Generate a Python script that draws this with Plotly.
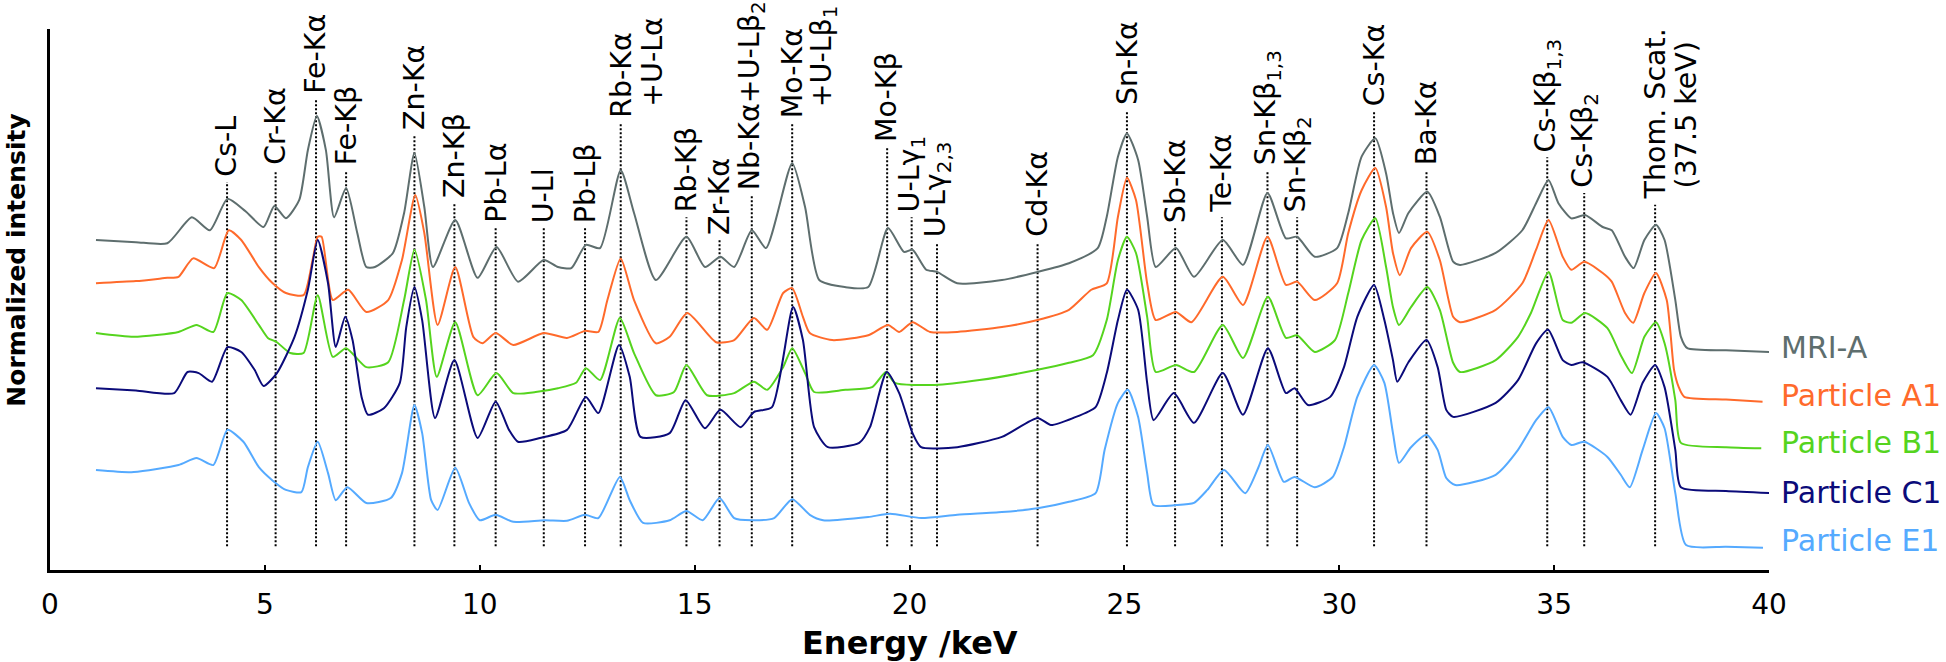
import plotly.graph_objects as go

# spectra: (energy keV, offset normalized intensity)
mri_a = [(1.07, 61.0), (2.0, 60.6), (2.73, 60.4), (3.30, 65.2), (3.72, 62.8), (4.13, 68.6), (4.55, 66.3),
         (4.97, 63.4), (5.22, 67.3), (5.49, 65.0), (5.8, 68.4), (6.0, 77.6), (6.21, 83.9), (6.42, 77.6),
         (6.61, 65.2), (6.89, 70.6), (7.15, 62.3), (7.36, 56.0), (7.56, 56.0), (7.98, 58.6), (8.24, 66.0),
         (8.48, 77.1), (8.71, 67.1), (8.91, 56.0), (9.43, 64.7), (9.95, 54.0), (10.39, 59.7), (10.89, 53.3),
         (11.49, 57.3), (11.82, 56.0), (12.13, 55.8), (12.47, 60.1), (12.8, 59.5), (13.28, 73.9), (13.59, 66.0),
         (14.1, 53.6), (14.81, 61.6), (15.24, 56.0), (15.6, 57.9), (15.92, 56.0), (16.33, 62.8), (16.66, 59.5),
         (17.27, 75.2), (17.57, 67.1), (17.9, 53.6), (18.5, 52.3), (19.04, 52.3), (19.5, 63.2), (19.87, 58.8),
         (20.07, 59.2), (20.39, 55.5), (20.64, 55.1), (21.11, 53.0), (22.15, 53.6), (22.98, 55.1), (23.71, 56.7),
         (24.38, 59.5), (24.59, 65.3), (24.85, 76.4), (25.06, 80.7), (25.32, 75.8), (25.53, 65.3), (25.73, 56.0),
         (26.2, 59.5), (26.62, 54.2), (27.29, 61.0), (27.76, 56.4), (28.33, 69.7), (28.76, 61.3), (29.02, 61.6),
         (29.43, 57.9), (29.95, 59.5), (30.21, 66.0), (30.52, 76.4), (30.84, 79.8), (31.09, 73.3), (31.25, 66.0),
         (31.39, 62.3), (31.61, 66.0), (32.05, 69.9), (32.34, 65.3), (32.65, 57.0), (32.81, 56.4), (33.64, 58.6),
         (34.26, 62.8), (34.58, 67.8), (34.87, 72.1), (35.1, 67.8), (35.4, 65.0), (35.72, 65.6), (36.13, 63.4),
         (36.34, 62.8), (36.65, 57.9), (36.85, 55.8), (37.1, 61.0), (37.37, 63.8), (37.57, 61.0), (37.82, 49.9),
         (37.95, 43.1), (38.1, 41.0), (39.0, 40.6), (40.05, 40.3)]

particle_a1 = [(1.07, 53.0), (2.0, 53.4), (2.73, 54.0), (2.99, 54.2), (3.33, 57.6), (3.82, 55.8), (4.16, 62.8),
               (4.45, 61.0), (4.86, 56.0), (5.17, 53.1), (5.49, 51.2), (5.9, 50.8), (6.11, 57.3), (6.23, 61.6),
               (6.32, 61.6), (6.58, 49.9), (6.94, 51.8), (7.36, 47.7), (7.87, 49.9), (8.19, 57.3), (8.5, 69.3),
               (8.71, 62.3), (9.02, 45.3), (9.43, 56.0), (9.85, 43.1), (10.06, 41.9), (10.37, 43.8), (10.78, 41.6),
               (11.49, 43.8), (12.03, 42.9), (12.45, 44.2), (12.76, 44.0), (12.97, 49.9), (13.28, 57.6), (13.59, 49.9),
               (14.1, 41.9), (14.42, 43.1), (14.83, 47.5), (15.5, 42.1), (15.92, 42.5), (16.38, 46.6), (16.69, 44.4),
               (17.06, 51.2), (17.27, 52.1), (17.52, 46.8), (17.68, 43.8), (18.2, 42.5), (19.04, 43.4), (19.5, 45.3),
               (19.76, 44.0), (20.07, 45.8), (20.48, 44.0), (21.11, 44.0), (22.15, 44.9), (22.98, 46.2), (23.71, 48.1),
               (24.23, 51.8), (24.59, 53.0), (24.85, 65.3), (25.06, 72.5), (25.27, 68.4), (25.53, 53.0), (25.73, 46.2),
               (26.2, 47.7), (26.56, 45.8), (27.29, 54.2), (27.76, 49.0), (28.33, 61.6), (28.76, 52.7), (29.02, 53.3),
               (29.43, 49.9), (29.95, 53.0), (30.21, 62.3), (30.52, 70.2), (30.84, 74.3), (31.09, 67.1), (31.25, 58.6),
               (31.41, 54.5), (31.67, 59.5), (32.05, 62.5), (32.34, 57.3), (32.65, 46.8), (32.81, 45.8), (33.64, 48.1),
               (34.26, 53.0), (34.58, 59.2), (34.87, 64.7), (35.2, 57.9), (35.4, 55.5), (35.7, 57.0), (36.13, 54.9),
               (36.34, 53.3), (36.65, 47.5), (36.84, 45.7), (37.1, 51.2), (37.37, 54.9), (37.62, 49.9), (37.79, 37.0),
               (37.9, 33.8), (38.03, 32.0), (39.0, 31.5), (39.85, 31.1)]

particle_b1 = [(1.07, 43.8), (1.95, 43.1), (2.99, 44.0), (3.41, 45.3), (3.8, 44.0), (4.13, 51.2), (4.45, 49.9),
               (4.86, 45.3), (5.07, 42.9), (5.28, 42.1), (5.59, 40.1), (5.9, 40.1), (6.23, 50.8), (6.58, 39.4),
               (6.89, 41.0), (7.36, 37.5), (7.87, 38.4), (8.24, 49.9), (8.48, 59.2), (8.75, 49.9), (9.0, 35.7),
               (9.43, 45.8), (9.95, 32.3), (10.39, 36.4), (10.78, 32.7), (11.3, 32.9), (11.82, 33.6), (12.24, 34.6),
               (12.47, 37.3), (12.8, 35.1), (13.26, 46.6), (13.59, 40.1), (14.1, 32.3), (14.52, 32.9), (14.81, 37.9),
               (15.29, 32.3), (15.92, 32.7), (16.38, 34.8), (16.69, 33.3), (17.06, 37.5), (17.27, 41.0), (17.57, 36.4),
               (17.78, 32.9), (18.51, 33.3), (19.13, 33.8), (19.45, 36.6), (19.66, 34.6), (20.59, 34.2), (21.63, 35.1),
               (22.98, 37.0), (23.71, 38.3), (24.27, 39.7), (24.59, 46.2), (24.85, 57.3), (25.06, 61.6), (25.27, 58.6),
               (25.53, 46.8), (25.73, 36.6), (26.2, 37.9), (26.62, 36.6), (27.29, 45.3), (27.76, 39.2), (28.34, 50.5),
               (28.76, 42.9), (29.02, 43.4), (29.43, 40.3), (29.9, 42.5), (30.21, 51.2), (30.52, 61.0), (30.84, 65.0),
               (31.09, 56.0), (31.25, 48.6), (31.39, 45.3), (31.67, 48.6), (32.05, 52.3), (32.34, 48.1), (32.65, 38.3),
               (32.81, 36.6), (33.64, 38.8), (34.16, 43.1), (34.46, 47.5), (34.87, 55.1), (35.2, 46.2), (35.4, 45.7),
               (35.72, 47.5), (36.24, 44.7), (36.55, 39.7), (36.81, 36.4), (37.1, 43.1), (37.37, 45.8), (37.57, 41.9),
               (37.82, 31.4), (37.95, 23.5), (39.0, 22.7), (39.82, 22.5)]

particle_c1 = [(1.07, 33.6), (2.0, 33.2), (2.89, 32.7), (3.2, 36.6), (3.46, 36.4), (3.77, 34.8), (4.13, 41.2),
               (4.45, 40.3), (4.76, 37.0), (4.97, 34.0), (5.28, 36.4), (5.69, 43.1), (6.0, 51.8), (6.23, 61.0),
               (6.47, 53.0), (6.65, 41.2), (6.87, 46.8), (7.04, 42.5), (7.25, 32.0), (7.4, 28.7), (7.77, 29.9),
               (8.14, 34.6), (8.29, 44.9), (8.48, 52.3), (8.66, 46.2), (8.96, 28.1), (9.41, 38.8), (9.95, 24.4),
               (10.37, 31.1), (10.68, 25.9), (10.89, 23.7), (11.4, 24.4), (12.03, 25.9), (12.47, 32.0), (12.76, 29.0),
               (13.24, 41.6), (13.49, 35.7), (13.74, 24.6), (14.42, 25.3), (14.79, 31.4), (15.24, 26.2), (15.6, 29.6),
               (16.07, 26.4), (16.38, 29.2), (16.8, 30.1), (17.29, 48.6), (17.52, 42.5), (17.78, 26.4), (18.1, 22.7),
               (18.83, 23.5), (19.08, 26.4), (19.47, 36.6), (19.76, 32.7), (20.07, 25.3), (20.27, 22.7), (21.11, 22.7),
               (22.15, 24.6), (22.98, 28.1), (23.29, 26.8), (23.81, 28.1), (24.33, 30.1), (24.59, 36.4), (24.85, 46.2),
               (25.06, 51.8), (25.32, 48.1), (25.53, 34.6), (25.68, 27.7), (26.15, 32.7), (26.62, 27.2), (27.29, 36.4),
               (27.76, 28.7), (28.34, 41.0), (28.76, 32.7), (28.96, 33.6), (29.27, 30.5), (29.79, 32.0), (30.11, 37.5),
               (30.42, 46.8), (30.81, 52.7), (31.05, 46.2), (31.25, 38.8), (31.35, 34.8), (31.61, 38.4), (32.03, 42.5),
               (32.29, 37.5), (32.49, 29.6), (32.65, 28.3), (33.64, 30.9), (34.16, 35.1), (34.58, 41.9), (34.86, 44.4),
               (35.2, 38.8), (35.4, 37.9), (35.66, 38.4), (36.24, 35.7), (36.55, 31.4), (36.78, 28.7), (37.06, 34.6),
               (37.35, 37.9), (37.57, 33.8), (37.82, 22.2), (37.95, 15.3), (39.0, 14.6), (40.07, 14.2)]

particle_e1 = [(1.07, 18.5), (1.95, 18.1), (2.99, 19.4), (3.41, 20.7), (3.8, 19.4), (4.13, 25.9), (4.5, 23.7),
               (4.86, 19.0), (5.17, 16.6), (5.49, 14.8), (5.85, 14.4), (6.0, 19.0), (6.23, 23.7), (6.47, 17.9),
               (6.65, 12.9), (6.92, 15.3), (7.36, 12.4), (7.93, 13.3), (8.19, 17.9), (8.48, 30.5), (8.66, 25.3),
               (8.87, 12.9), (9.02, 11.1), (9.43, 18.9), (9.75, 12.4), (10.0, 9.2), (10.37, 10.2), (10.78, 8.9),
               (11.51, 9.2), (12.03, 9.1), (12.45, 10.2), (12.76, 9.6), (13.26, 17.2), (13.49, 12.9), (13.8, 8.7),
               (14.42, 9.2), (14.81, 10.9), (15.19, 9.2), (15.58, 13.3), (15.92, 9.6), (16.33, 9.2), (16.85, 9.6),
               (17.27, 13.1), (17.68, 10.2), (17.99, 9.2), (19.04, 9.8), (19.55, 10.4), (20.27, 9.6), (21.11, 10.2),
               (22.15, 10.7), (22.98, 11.4), (23.71, 12.6), (24.33, 14.2), (24.54, 22.2), (24.85, 30.9), (25.08, 33.3),
               (25.32, 28.3), (25.53, 17.9), (25.68, 12.0), (26.2, 12.0), (26.62, 12.4), (26.93, 14.8), (27.32, 18.5),
               (27.81, 14.2), (28.12, 19.0), (28.34, 23.1), (28.71, 16.3), (28.96, 17.2), (29.43, 15.3), (29.85, 17.2),
               (30.11, 22.7), (30.42, 32.0), (30.81, 37.9), (31.05, 34.6), (31.25, 25.3), (31.39, 19.8), (31.67, 22.7),
               (32.03, 25.0), (32.29, 22.2), (32.49, 17.0), (32.7, 15.7), (33.64, 17.6), (34.16, 22.2), (34.58, 27.7),
               (34.87, 30.1), (35.2, 24.6), (35.4, 23.1), (35.7, 23.7), (36.24, 20.9), (36.55, 17.6), (36.76, 15.3),
               (37.06, 22.2), (37.37, 29.0), (37.57, 26.2), (37.82, 14.2), (38.07, 4.6), (39.0, 4.3), (39.86, 4.1)]

series_names = ["MRI-A", "Particle A1", "Particle B1", "Particle C1", "Particle E1"]
series_data = [mri_a, particle_a1, particle_b1, particle_c1, particle_e1]
series_colors = ["#5E6E6E", "#FF6A2B", "#55D41E", "#0B0B7A", "#55AAFF"]
legend_y = [41.2, 32.3, 23.5, 14.4, 5.5]

# peak markers: label, energy, top of dotted line (same intensity units)
peak_labels = ["Cs-L", "Cr-Kα", "Fe-Kα", "Fe-Kβ", "Zn-Kα", "Zn-Kβ", "Pb-Lα", "U-Ll", "Pb-Lβ",
               "Rb-Kα", "Rb-Kβ", "Zr-Kα", "Nb-Kα+U-Lβ<sub>2</sub>", "Mo-Kα", "Mo-Kβ",
               "U-Lγ<sub>1</sub>", "U-Lγ<sub>2,3</sub>", "Cd-Kα", "Sn-Kα", "Sb-Kα", "Te-Kα",
               "Sn-Kβ<sub>1,3</sub>", "Sn-Kβ<sub>2</sub>", "Cs-Kα", "Ba-Kα", "Cs-Kβ<sub>1,3</sub>",
               "Cs-Kβ<sub>2</sub>", "Thom. Scat."]
peak_energy = [4.12, 5.25, 6.19, 6.89, 8.48, 9.41, 10.37, 11.49, 12.45, 13.28, 14.81, 15.58, 16.33,
               17.27, 19.48, 20.05, 20.64, 22.98, 25.06, 26.18, 27.27, 28.33, 29.02, 30.81, 32.03,
               34.84, 35.70, 37.35]
peak_top = [71.7, 73.9, 87.1, 73.9, 80.4, 67.8, 63.2, 63.2, 63.2, 82.6, 65.2, 61.0, 69.3, 82.6,
            78.2, 65.2, 60.6, 60.6, 85.0, 63.2, 65.2, 73.9, 65.2, 84.7, 73.9, 76.3, 69.7, 67.5]
second_line = {"Rb-Kα": "+U-Lα", "Mo-Kα": "+U-Lβ<sub>1</sub>", "Thom. Scat.": "(37.5 keV)"}
line_bottom = 4.4

FONT = "DejaVu Sans"

fig = go.Figure()

# dotted marker lines
lx, ly = [], []
for e, t in zip(peak_energy, peak_top):
    lx += [e, e, None]
    ly += [line_bottom, t, None]
fig.add_trace(go.Scatter(x=lx, y=ly, mode="lines",
                         line=dict(color="black", width=2, dash="2px,2px"),
                         hoverinfo="skip", showlegend=False))

for name, data, color in zip(series_names, series_data, series_colors):
    fig.add_trace(go.Scatter(x=[p[0] for p in data], y=[p[1] for p in data],
                             mode="lines", name=name,
                             line=dict(color=color, width=2, shape="spline", smoothing=0.6),
                             showlegend=False))

annotations = []
for lab, e, t in zip(peak_labels, peak_energy, peak_top):
    annotations.append(dict(x=e, y=t, xref="x", yref="y", text=lab, textangle=-90,
                            showarrow=False, xanchor="center", yanchor="bottom", yshift=3,
                            font=dict(family=FONT, size=28.5, color="black")))
    if lab in second_line:
        annotations.append(dict(x=e, y=t, xref="x", yref="y", text=second_line[lab], textangle=-90,
                                showarrow=False, xanchor="center", yanchor="bottom",
                                xshift=31, yshift=14,
                                font=dict(family=FONT, size=28.5, color="black")))

for name, color, yv in zip(series_names, series_colors, legend_y):
    annotations.append(dict(x=1.006, y=yv, xref="paper", yref="y", text=name,
                            showarrow=False, xanchor="left", yanchor="middle",
                            font=dict(family=FONT, size=30, color=color)))

annotations.append(dict(x=-0.02, y=57.3, xref="paper", yref="y", text="<b>Normalized intensity</b>",
                        textangle=-90, showarrow=False, xanchor="center", yanchor="middle",
                        font=dict(family=FONT, size=25, color="black")))
annotations.append(dict(x=0.5, y=-0.135, xref="paper", yref="paper", text="<b>Energy /keV</b>",
                        showarrow=False, xanchor="center", yanchor="middle",
                        font=dict(family=FONT, size=32, color="black")))

fig.update_layout(
    width=1946, height=662,
    margin=dict(l=50, r=177, t=29, b=92),
    plot_bgcolor="white", paper_bgcolor="white",
    font=dict(family=FONT, color="black"),
    annotations=annotations,
)
fig.update_xaxes(range=[0, 40], tickvals=[0, 5, 10, 15, 20, 25, 30, 35, 40],
                 ticks="inside", ticklen=5, tickwidth=2, tickcolor="black",
                 showline=True, linewidth=2.5, linecolor="black",
                 showgrid=False, zeroline=False, ticklabelstandoff=8,
                 tickfont=dict(family=FONT, size=28, color="black"))
fig.update_yaxes(range=[0, 100], showline=True, linewidth=2.5, linecolor="black",
                 showgrid=False, zeroline=False, showticklabels=False, ticks="")

fig.write_html("out.html", config={"displayModeBar": False},
               post_script="document.body.style.margin='0';")
